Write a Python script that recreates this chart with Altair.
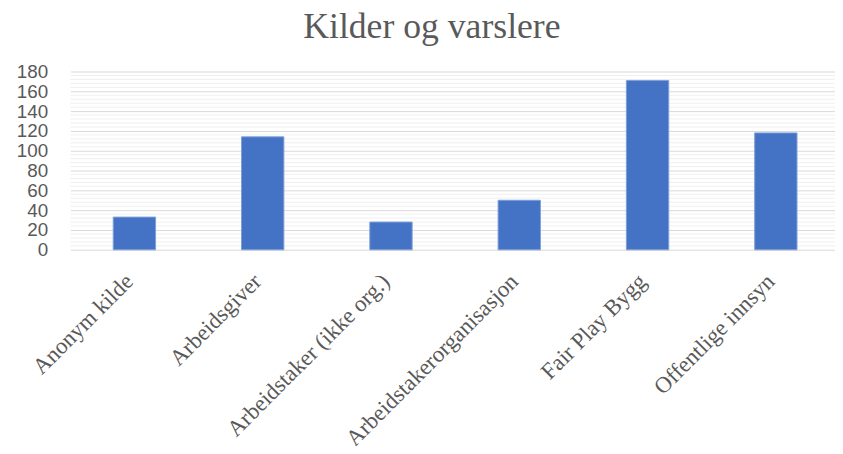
import altair as alt
import pandas as pd

categories = ["Anonym kilde", "Arbeidsgiver", "Arbeidstaker (ikke org.)",
              "Arbeidstakerorganisasjon", "Fair Play Bygg", "Offentlige innsyn"]
values = [33, 114, 28, 50, 171, 118]
major_ticks = list(range(0, 181, 20))
minor_ticks = [v for v in range(0, 181, 4) if v % 20 != 0]

df = pd.DataFrame({"kategori": categories, "antall": values})
minor_df = pd.DataFrame({"v": minor_ticks})

yscale = alt.Scale(domain=[0, 180], nice=False)
yaxis = alt.Axis(values=major_ticks, title=None, grid=True,
                 gridColor="#d9d9d9", gridWidth=1, domain=False,
                 ticks=False, labelFont="Liberation Sans",
                 labelFontSize=19, labelColor="#595959",
                 labelPadding=23, labelOverlap=False)

minor = alt.Chart(minor_df).mark_rule(color="#f0f0f0", strokeWidth=1).encode(
    y=alt.Y("v:Q", scale=yscale, axis=yaxis)
)

bars = alt.Chart(df).mark_bar(color="#4472C4", stroke="#7f9fd8", strokeWidth=1).encode(
    x=alt.X("kategori:N", sort=categories,
            scale=alt.Scale(paddingInner=0.67, paddingOuter=0.315, align=0.53),
            axis=alt.Axis(title=None, labelAngle=-45, labelAlign="right",
                          labelBaseline="alphabetic", labelFont="Liberation Serif",
                          labelFontSize=23, labelColor="#595959",
                          labelPadding=33, ticks=False, domain=False,
                          labelLimit=400, labelOverlap=False)),
    y=alt.Y("antall:Q", scale=yscale, axis=yaxis)
)

chart = alt.layer(minor, bars).properties(
    width=772, height=180,
    autosize=alt.AutoSizeParams(type="none"),
    padding={"left": 63, "top": 62, "right": 0, "bottom": 196},
    title=alt.Title("Kilder og varslere", font="Liberation Serif", fontSize=36,
                    fontWeight="normal", color="#595959", anchor="middle",
                    dx=-21, offset=17)
).configure_view(stroke=None).configure_axis(labelOverlap=False)

chart.save("out.html", embed_options={"renderer": "svg", "actions": False})
